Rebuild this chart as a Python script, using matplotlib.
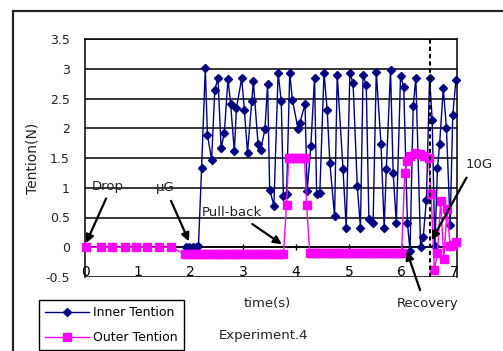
import matplotlib
matplotlib.use("Agg")
import matplotlib.pyplot as plt
from matplotlib.patches import Rectangle

# ---- data ----
inner_t = [1.92, 1.98, 2.04, 2.10, 2.15, 2.21, 2.28, 2.32, 2.40, 2.46, 2.52, 2.58, 2.64,
           2.71, 2.76, 2.83, 2.87, 2.97, 3.02, 3.08, 3.16, 3.19, 3.28, 3.33, 3.41, 3.46,
           3.50, 3.58, 3.66, 3.72, 3.76, 3.82, 3.88, 3.93, 4.04, 4.07, 4.17, 4.21, 4.28,
           4.35, 4.39, 4.45, 4.53, 4.59, 4.64, 4.73, 4.78, 4.89, 4.95, 5.02, 5.08, 5.16,
           5.22, 5.27, 5.33, 5.38, 5.46, 5.52, 5.61, 5.67, 5.71, 5.79, 5.84, 5.90, 5.98,
           6.04, 6.11, 6.16, 6.22, 6.27, 6.36, 6.41, 6.47, 6.53, 6.58, 6.63, 6.68, 6.72,
           6.79, 6.85, 6.92, 6.97, 7.03]
inner_v = [0.0, 0.0, 0.0, 0.0, 0.02, 1.34, 3.01, 1.89, 1.47, 2.65, 2.84, 1.67, 1.92,
           2.83, 2.41, 1.61, 2.34, 2.84, 2.31, 1.59, 2.45, 2.79, 1.73, 1.64, 1.98, 2.74,
           0.97, 0.70, 2.93, 2.45, 0.86, 0.89, 2.93, 2.48, 1.98, 2.09, 2.40, 0.94, 1.70,
           2.85, 0.89, 0.92, 2.93, 2.31, 1.42, 0.52, 2.90, 1.31, 0.33, 2.93, 2.76, 1.03,
           0.33, 2.90, 2.72, 0.47, 0.41, 2.95, 1.73, 0.33, 1.31, 2.98, 1.25, 0.41, 2.87,
           2.70, 0.41, -0.06, 2.37, 2.85, 0.00, 0.17, 0.80, 2.84, 2.14, 0.02, 1.33, 1.73,
           2.67, 2.00, 0.38, 2.23, 2.81]

outer_t = [0.02, 0.30, 0.52, 0.76, 0.97, 1.18, 1.41, 1.63,
           1.90, 1.96, 2.02, 2.08, 2.14, 2.20, 2.26, 2.32, 2.38, 2.44, 2.50, 2.56, 2.62,
           2.68, 2.74, 2.80, 2.86, 2.92, 2.98, 3.04, 3.10, 3.16, 3.22, 3.28, 3.34, 3.40,
           3.46, 3.52, 3.58, 3.64, 3.70, 3.76,
           3.82, 3.86, 3.92, 3.98, 4.04, 4.10, 4.16, 4.20,
           4.26, 4.32, 4.38, 4.44, 4.50, 4.56, 4.62, 4.68, 4.74, 4.80, 4.86, 4.92, 4.98,
           5.04, 5.10, 5.16, 5.22, 5.28, 5.34, 5.40, 5.46, 5.52, 5.58, 5.64, 5.70, 5.76,
           5.82, 5.88, 5.94, 6.00,
           6.06, 6.11, 6.16, 6.25, 6.34, 6.43, 6.51, 6.56, 6.62, 6.68, 6.74, 6.80, 6.86,
           6.92, 6.97, 7.03]
outer_v = [0, 0, 0, 0, 0, 0, 0, 0,
           -0.12, -0.12, -0.12, -0.12, -0.12, -0.12, -0.12, -0.12, -0.12, -0.12, -0.12,
           -0.12, -0.12, -0.12, -0.12, -0.12, -0.12, -0.12, -0.12, -0.12, -0.12, -0.12,
           -0.12, -0.12, -0.12, -0.12, -0.12, -0.12, -0.12, -0.12, -0.12, -0.12,
           0.71, 1.50, 1.50, 1.50, 1.50, 1.50, 1.50, 0.71,
           -0.10, -0.10, -0.10, -0.10, -0.10, -0.10, -0.10, -0.10, -0.10, -0.10, -0.10,
           -0.10, -0.10, -0.10, -0.10, -0.10, -0.10, -0.10, -0.10, -0.10, -0.10, -0.10,
           -0.10, -0.10, -0.10, -0.10, -0.10, -0.10, -0.10, -0.10,
           1.25, 1.45, 1.53, 1.59, 1.56, 1.53, 1.50, 0.89, -0.38, -0.09, 0.78, -0.20, 0.64,
           0.02, 0.03, 0.08]

y_ticks = [-0.5, 0, 0.5, 1, 1.5, 2, 2.5, 3, 3.5]
y_labels = ["-0.5", "0", "0.5", "1", "1.5", "2", "2.5", "3", "3.5"]
x_ticks = [0, 1, 2, 3, 4, 5, 6, 7]
x_labels = ["0", "1", "2", "3", "4", "5", "6", "7"]
series_names = ["Inner Tention", "Outer Tention"]
event_time = 6.545

# ---- figure ----
W, H = 503, 351
fig = plt.figure(figsize=(W / 100, H / 100), dpi=100)
fig.patch.set_facecolor("white")

# outer chart border (extends beyond the right and bottom edges)
fig.patches.append(Rectangle((13 / W, -0.2), 1.2, 0.2 + (1 - 11 / H),
                             transform=fig.transFigure, fill=False,
                             edgecolor="#222222", lw=1.6))

AX_L, AX_R, AX_T, AX_B = 85, 457, 39, 277
ax = fig.add_axes([AX_L / W, 1 - AX_B / H, (AX_R - AX_L) / W, (AX_B - AX_T) / H])
ax.set_xlim(0, 7.05)
ax.set_ylim(-0.5, 3.5)

txtc = "#222222"
ax.set_yticks(y_ticks)
ax.set_yticklabels(y_labels, fontsize=9, color=txtc)
ax.tick_params(axis="y", length=0, pad=11)
ax.set_xticks(x_ticks)
ax.set_xticklabels(x_labels, fontsize=9, color=txtc)
ax.tick_params(axis="x", direction="inout", length=5, width=1, pad=10)
ax.yaxis.grid(True, color="black", lw=1.1)
ax.set_axisbelow(True)

ax.spines["bottom"].set_position(("data", 0))
for s in ["left", "right", "top", "bottom"]:
    ax.spines[s].set_color("black")
    ax.spines[s].set_linewidth(1.1)

l1, = ax.plot(inner_t, inner_v, color="#000080", lw=1.0, marker="D",
              markersize=4.5, label=series_names[0], zorder=3, clip_on=False)
l2, = ax.plot(outer_t, outer_v, color="#FF00FF", lw=1.0, marker="s",
              markersize=6.3, label=series_names[1], zorder=4, clip_on=False)

ax.axvline(event_time, color="black", lw=1.5, ls=(0, (2, 1.5)), zorder=5)

ax.set_ylabel("Tention(N)", fontsize=10, color=txtc)
ax.yaxis.set_label_coords((39 - AX_L) / (AX_R - AX_L), 0.5)

arrow = dict(arrowstyle="-|>", color="black", lw=1.6, mutation_scale=12,
             shrinkA=0, shrinkB=0)
ann = [("Drop", (0.44, 1.02), (0.02, 0.07), (0.40, 0.82)),
       ("μG", (1.52, 1.00), (1.97, 0.10), (1.63, 0.78)),
       ("Pull-back", (2.78, 0.59), (3.73, 0.05), (3.17, 0.39)),
       ("Recovery", (6.50, -0.95), (6.10, -0.07), (6.35, -0.72)),
       ("10G", (7.46, 1.39), (6.57, 0.12), (7.23, 1.17))]
for text, tpos, tip, start in ann:
    ax.text(tpos[0], tpos[1], text, fontsize=9.5, color=txtc, ha="center",
            va="center", clip_on=False)
    ax.annotate("", xy=tip, xytext=start, arrowprops=arrow, annotation_clip=False,
                zorder=6)

fig.text(267 / W, 1 - 303 / H, "time(s)", fontsize=9.5, color=txtc,
         ha="center", va="center")
fig.text(264 / W, 1 - 336 / H, "Experiment.4", fontsize=9.5, color=txtc,
         ha="center", va="center")

leg = fig.legend(handles=[l1, l2], loc="upper left",
                 bbox_to_anchor=(39 / W, 1 - 300 / H), fontsize=9,
                 frameon=True, fancybox=False, edgecolor="black", framealpha=1,
                 handlelength=3.5, handletextpad=0.35, borderpad=0.5,
                 labelspacing=0.95, borderaxespad=0)
leg.get_frame().set_linewidth(1.0)

fig.savefig("out.png", dpi=100)
